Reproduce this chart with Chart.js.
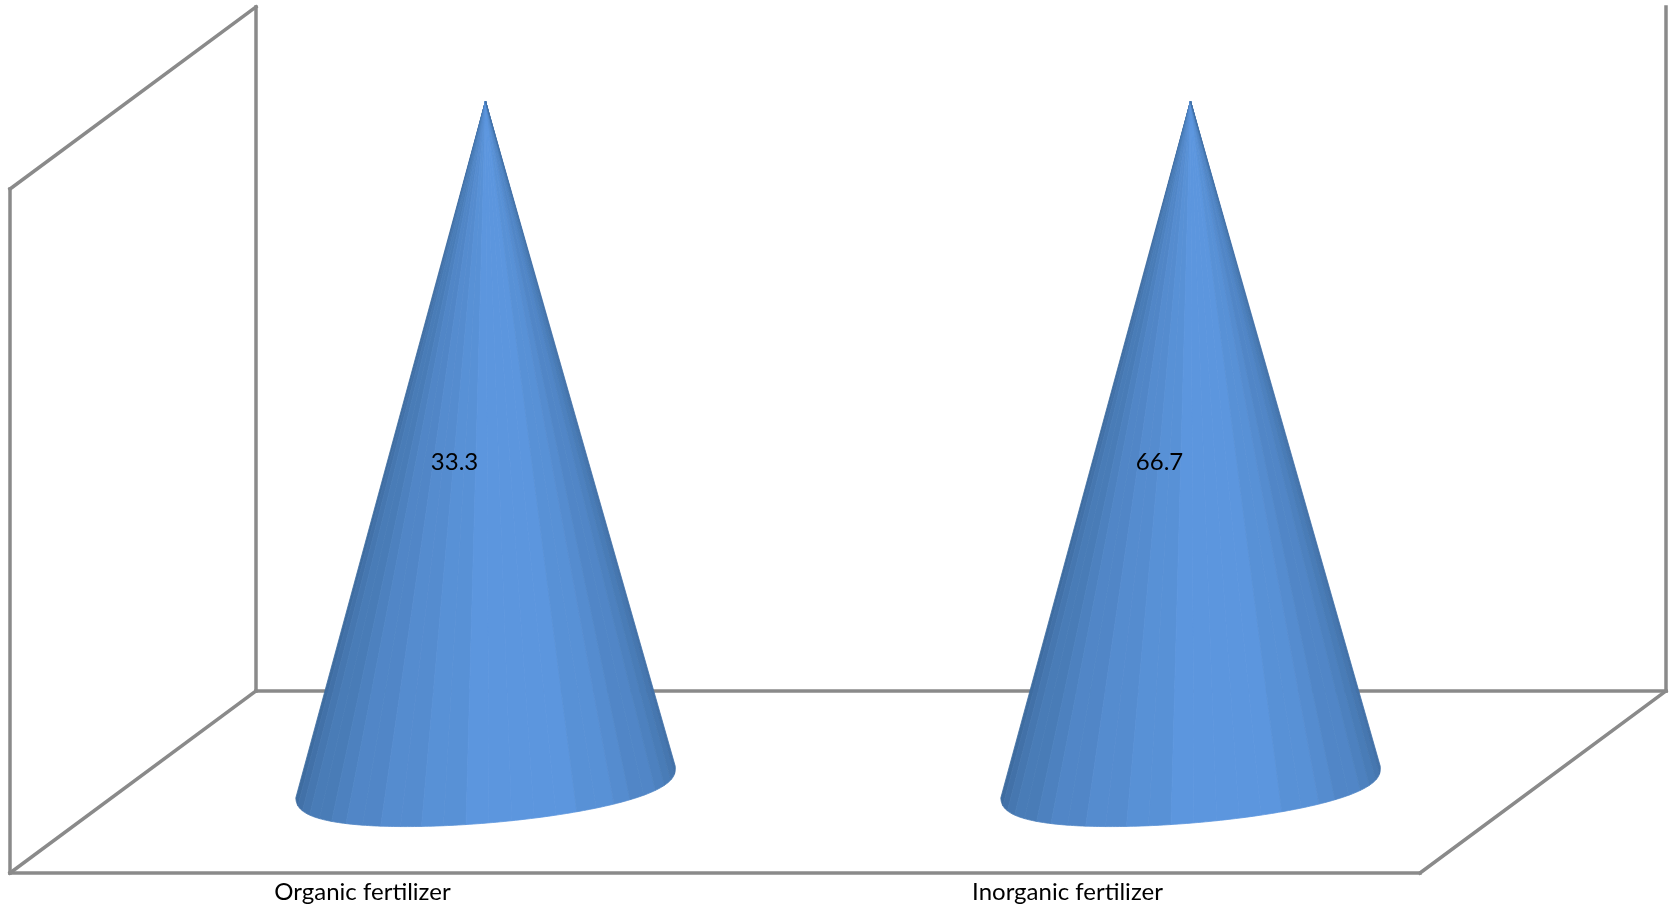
<!DOCTYPE html>
<html>
<head>
<meta charset="utf-8">
<title>Fertilizer share</title>
<style>
    html, body { margin: 0; padding: 0; background: #fff; overflow: hidden; }
    canvas { display: block; }
</style>
<script src="https://cdn.jsdelivr.net/npm/chart.js@4"></script>
</head>
<body>
<canvas id="cones" width="1675" height="909"></canvas>
<script>
    const categories = ['Organic fertilizer', 'Inorganic fertilizer'];
    const shares = [33.3, 66.7];

    // 3d box: back wall is pushed this far from the front plane
    const depthX = 246;
    const depthY = 182;
    const facets = 26;
    const baseTilt = -4.8 * Math.PI / 180;
    const baseMinor = 41;

    // lightest a bit right of the middle, darker to both edges
    function facetColor(t) {
        const peak = 0.58;
        const d = t < peak ? (peak - t) / peak : (t - peak) / (1 - peak);
        const k = Math.round(Math.pow(d, 1.6) * 8) / 8;
        const r = Math.round(92 - k * 30);
        const g = Math.round(150 - k * 42);
        const b = Math.round(222 - k * 62);
        return 'rgb(' + r + ',' + g + ',' + b + ')';
    }

    const boxPlugin = {
        id: 'box',
        beforeDatasetsDraw(chart) {
            const a = chart.chartArea;
            const c = chart.ctx;
            const segs = [
                [a.left, a.top, a.left, a.bottom],
                [a.left, a.bottom, a.right, a.bottom],
                [a.left, a.top, a.left + depthX, a.top - depthY],
                [a.left, a.bottom, a.left + depthX, a.bottom - depthY],
                [a.right, a.bottom, a.right + depthX, a.bottom - depthY],
                [a.left + depthX, a.top - depthY, a.left + depthX, a.bottom - depthY],
                [a.right + depthX, a.top - depthY, a.right + depthX, a.bottom - depthY],
                [a.left + depthX, a.bottom - depthY, a.right + depthX, a.bottom - depthY]
            ];
            c.save();
            c.strokeStyle = '#8a8a8a';
            c.lineWidth = 3.5;
            c.lineCap = 'square';
            segs.forEach(function(s) {
                c.beginPath();
                c.moveTo(s[0], s[1]);
                c.lineTo(s[2], s[3]);
                c.stroke();
            });
            c.restore();
        }
    };

    // each bar element becomes a faceted cone, moved to the middle of the box depth
    const conePlugin = {
        id: 'cone',
        afterDatasetsDraw(chart) {
            const c = chart.ctx;
            chart.data.datasets.forEach(function(ds, di) {
                chart.getDatasetMeta(di).data.forEach(function(bar, i) {
                    if (ds.data[i] === null) return;
                    const p = bar.getProps(['x', 'y', 'base', 'width']);
                    const cx = p.x + depthX / 2;
                    const cy = p.base - depthY / 2;
                    const tipY = p.y - depthY / 2 + 3;
                    const major = p.width / 2;
                    // rim is a little fuller than a true ellipse towards its ends
                    const pt = function(t) {
                        const ex = Math.cos(t) * major;
                        const ey = Math.pow(Math.max(Math.sin(t), 0), 0.78) * baseMinor;
                        return [
                            cx + ex * Math.cos(baseTilt) - ey * Math.sin(baseTilt),
                            cy + ex * Math.sin(baseTilt) + ey * Math.cos(baseTilt)
                        ];
                    };
                    c.save();
                    c.lineWidth = 0.8;
                    for (let n = 0; n < facets; n++) {
                        const col = facetColor((n + 0.5) / facets);
                        const t0 = Math.PI - Math.PI * n / facets;
                        const t1 = Math.PI - Math.PI * (n + 1) / facets;
                        c.fillStyle = col;
                        c.strokeStyle = col;
                        c.beginPath();
                        c.moveTo(cx, tipY);
                        for (let s = 0; s <= 6; s++) {
                            const q = pt(t0 + (t1 - t0) * s / 6);
                            c.lineTo(q[0], q[1]);
                        }
                        c.closePath();
                        c.fill();
                        c.stroke();
                    }
                    // value label
                    c.fillStyle = '#000';
                    c.font = '24px Lato';
                    c.textAlign = 'center';
                    c.textBaseline = 'middle';
                    c.fillText(ds.data[i].toFixed(1), cx - 31, cy - 320);
                    c.restore();
                });
            });
        }
    };

    // 100% stacked look: every category sits on its own axis topping out at its
    // value, so the cones stand equally tall while keeping the real numbers
    const datasets = categories.map(function(name, i) {
        return {
            label: name,
            data: categories.map(function(_, j) { return j === i ? shares[i] : null; }),
            yAxisID: 'y' + i,
            backgroundColor: 'transparent',
            borderWidth: 0,
            grouped: false,
            categoryPercentage: 1,
            barPercentage: 0.54
        };
    });

    const scales = {
        x: {
            grid: { display: false, drawTicks: false },
            border: { display: false },
            ticks: {
                color: '#000',
                font: { family: 'Lato', size: 24 },
                padding: 5,
                maxRotation: 0
            },
            afterFit: function(scale) { scale.height = 36; }
        }
    };
    shares.forEach(function(v, i) {
        scales['y' + i] = { display: false, min: 0, max: v };
    });

    new Chart(document.getElementById('cones'), {
        type: 'bar',
        data: { labels: categories, datasets: datasets },
        options: {
            responsive: false,
            maintainAspectRatio: false,
            animation: false,
            layout: { padding: { left: 10, right: 255, top: 189, bottom: 0 } },
            plugins: { legend: { display: false }, tooltip: { enabled: false } },
            scales: scales
        },
        plugins: [boxPlugin, conePlugin]
    });
</script>
</body>
</html>
